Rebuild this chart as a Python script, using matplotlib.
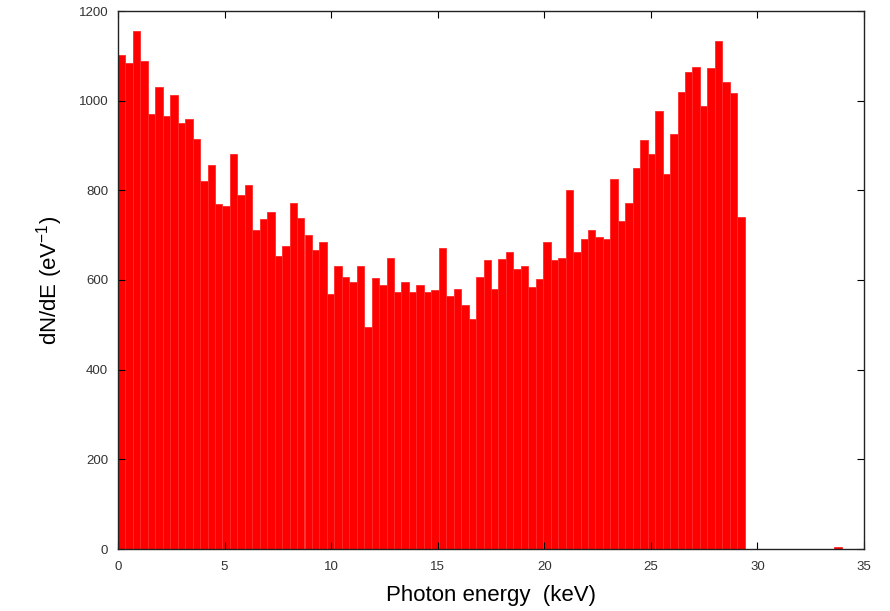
import numpy as np
import matplotlib
matplotlib.use("Agg")
import matplotlib.pyplot as plt

bin_width = 0.35  # keV
counts = [1102, 1083, 1156, 1088, 970, 1030, 966, 1013, 950, 958,
          914, 821, 857, 770, 764, 880, 790, 813, 711, 736,
          752, 654, 676, 772, 738, 700, 668, 684, 569, 632,
          607, 596, 632, 496, 604, 589, 648, 574, 596, 574,
          589, 574, 578, 672, 564, 581, 544, 513, 606, 645,
          581, 646, 662, 625, 632, 585, 602, 684, 645, 650,
          800, 662, 692, 712, 695, 692, 825, 732, 772, 849,
          912, 880, 978, 836, 926, 1019, 1065, 1076, 988, 1072,
          1133, 1042, 1018, 740]
tail_counts = [0, 0, 0, 0, 0, 0, 0, 0, 0, 0, 0, 0, 4, 0, 0, 0]

values = counts + tail_counts
edges = np.arange(len(values)) * bin_width

xticks = [0, 5, 10, 15, 20, 25, 30, 35]
yticks = [0, 200, 400, 600, 800, 1000, 1200]

plt.rcParams['font.family'] = ['Liberation Sans', 'DejaVu Sans']
plt.rcParams['mathtext.fontset'] = 'custom'
plt.rcParams['mathtext.rm'] = 'Liberation Sans'

fig = plt.figure(figsize=(8.9, 6.11), dpi=100)
ax = fig.add_axes([118/890, 62/611, (864-118)/890, (549-11)/611])

ax.bar(edges, values, width=bin_width, align='edge', color='#ff0000',
       edgecolor='#ff2a2a', linewidth=0.6)

ax.set_xlim(0, 35)
ax.set_ylim(0, 1200)
ax.set_xticks(xticks)
ax.set_yticks(yticks)
ax.tick_params(direction='in', length=5, width=0.8, top=True, right=True,
               labelsize=9.5, labelcolor='#333333')
ax.tick_params(axis='x', pad=9)
ax.tick_params(axis='y', pad=7)
for s in ax.spines.values():
    s.set_linewidth(1.0)
    s.set_color('#222222')

ax.set_xlabel('Photon energy  (keV)', fontsize=16, labelpad=8)
ax.set_ylabel('dN/dE (eV$\\mathregular{^{-1}}$)', fontsize=16, labelpad=10)

fig.savefig('out.png', dpi=100)
